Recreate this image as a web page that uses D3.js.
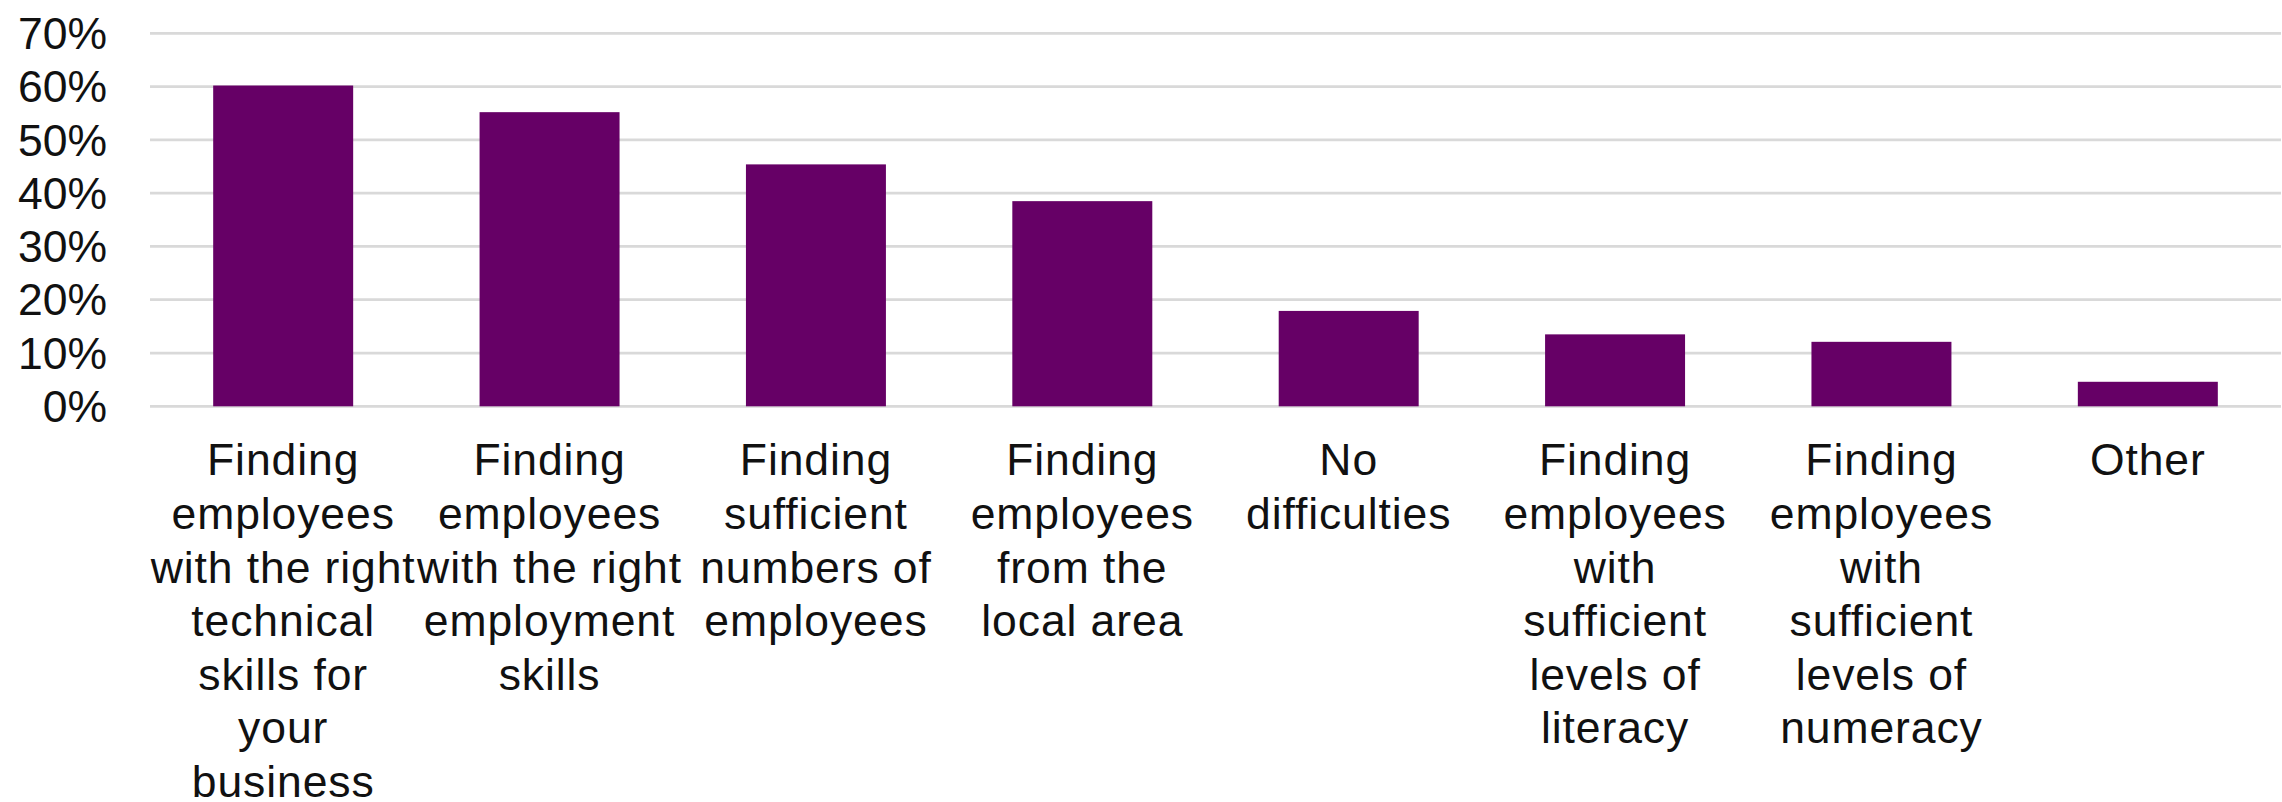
<!DOCTYPE html>
<html>
<head>
<meta charset="utf-8">
<script src="https://cdn.jsdelivr.net/npm/d3@7"></script>
<style>
  html, body { margin: 0; padding: 0; background: #ffffff; }
  svg { display: block; }
  text { font-family: "Liberation Sans", Arial, sans-serif; }
</style>
</head>
<body>
<svg id="chart" width="2282" height="802"></svg>
<script>
const categories = [
  "Finding employees with the right technical skills for your business",
  "Finding employees with the right employment skills",
  "Finding sufficient numbers of employees",
  "Finding employees from the local area",
  "No difficulties",
  "Finding employees with sufficient levels of literacy",
  "Finding employees with sufficient levels of numeracy",
  "Other"
];
const categoryLines = [
  ["Finding", "employees", "with the right", "technical", "skills for", "your", "business"],
  ["Finding", "employees", "with the right", "employment", "skills"],
  ["Finding", "sufficient", "numbers of", "employees"],
  ["Finding", "employees", "from the", "local area"],
  ["No", "difficulties"],
  ["Finding", "employees", "with", "sufficient", "levels of", "literacy"],
  ["Finding", "employees", "with", "sufficient", "levels of", "numeracy"],
  ["Other"]
];
const values = [0.602, 0.552, 0.454, 0.385, 0.179, 0.135, 0.121, 0.046];
const yTicks = [0, 0.1, 0.2, 0.3, 0.4, 0.5, 0.6, 0.7];

const svg = d3.select("#chart");
const plotLeft = 150, plotRight = 2281, plotTop = 33.3, plotBottom = 406.3;

const x = d3.scaleBand()
  .domain(categories)
  .range([plotLeft, plotRight])
  .paddingInner(0.4745)
  .paddingOuter(0.2372);

const y = d3.scaleLinear().domain([0, 0.7]).range([plotBottom, plotTop]);

// gridlines
svg.append("g")
  .selectAll("line")
  .data(yTicks)
  .join("line")
  .attr("x1", plotLeft).attr("x2", plotRight)
  .attr("y1", d => y(d)).attr("y2", d => y(d))
  .attr("stroke", "#d9d9d9")
  .attr("stroke-width", 2.75);

// y axis labels
const yAxis = d3.axisLeft(y).tickValues(yTicks).tickFormat(d3.format(".0%")).tickSize(0).tickPadding(0);
const yg = svg.append("g").attr("transform", "translate(107,0)").call(yAxis);
yg.select(".domain").remove();
yg.selectAll("text")
  .attr("font-family", "'Liberation Sans', Arial, sans-serif")
  .attr("font-size", "44.5px")
  .attr("fill", "#111")
  .attr("dy", "0.34em");

// bars
svg.append("g")
  .selectAll("rect")
  .data(values)
  .join("rect")
  .attr("x", (d, i) => x(categories[i]))
  .attr("width", x.bandwidth())
  .attr("y", d => y(d))
  .attr("height", d => y(0) - y(d))
  .attr("fill", "#660066");

// category labels
const lab = svg.append("g");
categories.forEach((c, i) => {
  const cx = x(c) + x.bandwidth() / 2;
  const t = lab.append("text")
    .attr("text-anchor", "middle")
    .attr("font-size", "44.5px")
    .attr("letter-spacing", "0.9px")
    .attr("fill", "#111");
  categoryLines[i].forEach((ln, j) => {
    t.append("tspan")
      .attr("x", cx)
      .attr("y", plotBottom + 69 + j * 53.6)
      .text(ln);
  });
});
</script>
</body>
</html>
